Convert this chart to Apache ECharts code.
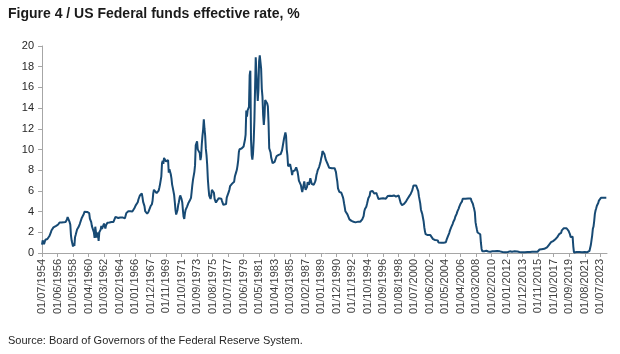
<!DOCTYPE html>
<html lang="en">
  <head>
    <meta charset="UTF-8" />
    <title>US Federal funds effective rate</title>
    <script src="https://cdn.jsdelivr.net/npm/echarts@6/dist/echarts.min.js"></script>
    <style>
      body {
        margin: 0;
        padding: 0;
        background: #fff;
      }

      #main {
        width: 620px;
        height: 354px;
      }
    </style>
  </head>

  <body>
    <div id="main"></div>
    <script>
      // monthly series, starting July 1954
      const startYear = 1954;
      const startMonth = 7;
      const rates = [
        0.8, 1.22, 1.07, 0.85, 0.83, 1.28, // 1954
        1.39, 1.29, 1.35, 1.43, 1.43, 1.64, 1.68, 1.96, 2.18, 2.24, 2.35, 2.48, // 1955
        2.45, 2.5, 2.5, 2.62, 2.75, 2.71, 2.75, 2.73, 2.95, 2.96, 2.88, 2.94, // 1956
        2.84, 3.0, 2.96, 3.0, 3.0, 3.0, 2.99, 3.24, 3.47, 3.5, 3.28, 2.98, // 1957
        2.72, 1.67, 1.2, 1.26, 0.63, 0.93, 0.68, 1.53, 1.76, 1.8, 2.27, 2.42, // 1958
        2.48, 2.43, 2.8, 2.96, 2.9, 3.39, 3.47, 3.5, 3.76, 3.98, 4.0, 3.99, // 1959
        3.99, 3.97, 3.84, 3.92, 3.85, 3.32, 3.23, 2.98, 2.6, 2.47, 2.44, 1.98, // 1960
        1.45, 2.54, 2.02, 1.49, 1.98, 1.73, 1.17, 2.0, 1.88, 2.26, 2.61, 2.33, // 1961
        2.15, 2.37, 2.85, 2.78, 2.36, 2.68, 2.71, 2.93, 2.9, 2.9, 2.94, 2.93, // 1962
        2.92, 3.0, 2.98, 2.9, 3.0, 2.99, 3.02, 3.49, 3.48, 3.5, 3.48, 3.38, // 1963
        3.48, 3.48, 3.43, 3.47, 3.5, 3.5, 3.42, 3.5, 3.45, 3.36, 3.52, 3.85, // 1964
        3.9, 3.98, 4.04, 4.09, 4.1, 4.04, 4.09, 4.12, 4.01, 4.08, 4.1, 4.32, // 1965
        4.42, 4.6, 4.65, 4.67, 4.9, 5.17, 5.3, 5.53, 5.4, 5.53, 5.76, 5.4, // 1966
        4.94, 5.0, 4.53, 4.05, 3.94, 3.98, 3.79, 3.9, 3.99, 3.88, 4.13, 4.51, // 1967
        4.6, 4.71, 5.05, 5.76, 6.11, 6.07, 6.02, 6.03, 5.78, 5.91, 5.82, 6.02, // 1968
        6.3, 6.61, 6.79, 7.41, 8.67, 8.9, 8.61, 9.19, 9.15, 9.0, 8.85, 8.97, // 1969
        8.98, 8.98, 7.76, 8.1, 7.95, 7.61, 7.21, 6.61, 6.29, 6.2, 5.6, 4.9, // 1970
        4.14, 3.72, 3.71, 4.16, 4.63, 4.91, 5.31, 5.56, 5.55, 5.2, 4.91, 4.14, // 1971
        3.5, 3.29, 3.83, 4.17, 4.27, 4.46, 4.55, 4.8, 4.87, 5.04, 5.06, 5.33, // 1972
        5.94, 6.58, 7.09, 7.12, 7.84, 8.49, 10.4, 10.5, 10.78, 10.01, 10.03, 9.95, // 1973
        9.65, 8.97, 9.35, 10.51, 11.31, 11.93, 12.92, 12.01, 11.34, 10.06, 9.45, 8.53, // 1974
        7.13, 6.24, 5.54, 5.49, 5.22, 5.55, 6.1, 6.14, 6.24, 5.82, 5.22, 5.2, // 1975
        4.87, 4.77, 4.84, 4.82, 5.29, 5.48, 5.31, 5.29, 5.25, 5.02, 4.95, 4.65, // 1976
        4.61, 4.68, 4.69, 4.73, 5.35, 5.39, 5.42, 5.9, 6.14, 6.47, 6.51, 6.56, // 1977
        6.7, 6.78, 6.79, 6.89, 7.36, 7.6, 7.81, 8.04, 8.45, 8.96, 9.76, 10.03, // 1978
        10.07, 10.06, 10.09, 10.01, 10.24, 10.29, 10.47, 10.94, 11.43, 13.77, 13.18, 13.78, // 1979
        13.82, 14.13, 17.19, 17.61, 10.98, 9.47, 9.03, 9.61, 10.87, 12.81, 15.85, 18.9, // 1980
        19.08, 15.93, 14.7, 15.72, 18.52, 19.1, 19.04, 17.82, 15.87, 15.08, 13.31, 12.37, // 1981
        13.22, 14.78, 14.68, 14.94, 14.45, 14.15, 12.59, 10.12, 10.31, 9.71, 9.2, 8.95, // 1982
        8.68, 8.51, 8.77, 8.8, 8.63, 8.98, 9.37, 9.56, 9.45, 9.48, 9.34, 9.47, // 1983
        9.56, 9.59, 9.91, 10.29, 10.32, 11.06, 11.23, 11.64, 11.3, 9.99, 9.43, 8.38, // 1984
        8.35, 8.5, 8.58, 8.27, 7.97, 7.53, 7.88, 7.9, 7.92, 7.99, 8.05, 8.27, // 1985
        8.14, 7.86, 7.48, 6.99, 6.85, 6.92, 6.56, 6.17, 5.89, 5.85, 6.04, 6.91, // 1986
        6.43, 6.1, 6.13, 6.37, 6.85, 6.73, 6.58, 6.73, 7.22, 7.29, 6.69, 6.77, // 1987
        6.83, 6.58, 6.58, 6.87, 7.09, 7.51, 7.75, 8.01, 8.19, 8.3, 8.35, 8.76, // 1988
        9.12, 9.36, 9.85, 9.84, 9.81, 9.53, 9.24, 8.99, 9.02, 8.84, 8.55, 8.45, // 1989
        8.23, 8.24, 8.28, 8.26, 8.18, 8.29, 8.15, 8.13, 8.2, 8.11, 7.81, 7.31, // 1990
        6.91, 6.25, 6.12, 5.91, 5.78, 5.9, 5.82, 5.66, 5.45, 5.21, 4.81, 4.43, // 1991
        4.03, 4.06, 3.98, 3.73, 3.82, 3.76, 3.25, 3.3, 3.22, 3.1, 3.09, 2.92, // 1992
        3.02, 3.03, 3.07, 2.96, 3.0, 3.04, 3.06, 3.03, 3.09, 2.99, 3.02, 2.96, // 1993
        3.05, 3.25, 3.34, 3.56, 4.01, 4.25, 4.26, 4.47, 4.73, 4.76, 5.29, 5.45, // 1994
        5.53, 5.92, 5.98, 6.05, 6.01, 6.0, 5.85, 5.74, 5.8, 5.76, 5.8, 5.6, // 1995
        5.56, 5.22, 5.31, 5.22, 5.24, 5.27, 5.4, 5.22, 5.3, 5.24, 5.31, 5.29, // 1996
        5.25, 5.19, 5.39, 5.51, 5.5, 5.56, 5.52, 5.54, 5.54, 5.5, 5.52, 5.5, // 1997
        5.56, 5.51, 5.49, 5.45, 5.49, 5.56, 5.54, 5.55, 5.51, 5.07, 4.83, 4.68, // 1998
        4.63, 4.76, 4.81, 4.74, 4.74, 4.76, 4.99, 5.07, 5.22, 5.2, 5.42, 5.3, // 1999
        5.45, 5.73, 5.85, 6.02, 6.27, 6.53, 6.54, 6.5, 6.52, 6.51, 6.51, 6.4, // 2000
        5.98, 5.49, 5.31, 4.8, 4.21, 3.97, 3.77, 3.65, 3.07, 2.49, 2.09, 1.82, // 2001
        1.73, 1.74, 1.73, 1.75, 1.75, 1.75, 1.73, 1.74, 1.75, 1.75, 1.34, 1.24, // 2002
        1.24, 1.26, 1.25, 1.26, 1.26, 1.22, 1.01, 1.03, 1.01, 1.01, 1.0, 0.98, // 2003
        1.0, 1.01, 1.0, 1.0, 1.0, 1.03, 1.26, 1.43, 1.61, 1.76, 1.93, 2.16, // 2004
        2.28, 2.5, 2.63, 2.79, 3.0, 3.04, 3.26, 3.5, 3.62, 3.78, 4.0, 4.16, // 2005
        4.29, 4.49, 4.59, 4.79, 4.94, 4.99, 5.24, 5.25, 5.25, 5.25, 5.25, 5.24, // 2006
        5.25, 5.26, 5.26, 5.25, 5.25, 5.25, 5.26, 5.02, 4.94, 4.76, 4.49, 4.24, // 2007
        3.94, 2.98, 2.61, 2.28, 1.98, 2.0, 2.01, 2.0, 1.81, 0.97, 0.39, 0.16, // 2008
        0.15, 0.22, 0.18, 0.15, 0.18, 0.21, 0.16, 0.16, 0.15, 0.12, 0.12, 0.12, // 2009
        0.11, 0.13, 0.16, 0.2, 0.2, 0.18, 0.18, 0.19, 0.19, 0.19, 0.19, 0.18, // 2010
        0.17, 0.16, 0.14, 0.1, 0.09, 0.09, 0.07, 0.1, 0.08, 0.07, 0.08, 0.07, // 2011
        0.08, 0.1, 0.13, 0.14, 0.16, 0.16, 0.16, 0.13, 0.14, 0.16, 0.16, 0.16, // 2012
        0.14, 0.15, 0.14, 0.15, 0.11, 0.09, 0.09, 0.08, 0.08, 0.09, 0.08, 0.09, // 2013
        0.07, 0.07, 0.08, 0.09, 0.09, 0.1, 0.09, 0.09, 0.09, 0.09, 0.09, 0.12, // 2014
        0.11, 0.11, 0.11, 0.12, 0.12, 0.13, 0.13, 0.14, 0.14, 0.12, 0.12, 0.24, // 2015
        0.34, 0.38, 0.36, 0.37, 0.37, 0.38, 0.39, 0.4, 0.4, 0.4, 0.41, 0.54, // 2016
        0.65, 0.66, 0.79, 0.9, 0.91, 1.04, 1.15, 1.16, 1.15, 1.15, 1.16, 1.3, // 2017
        1.41, 1.42, 1.51, 1.69, 1.7, 1.82, 1.91, 1.91, 1.95, 2.19, 2.2, 2.27, // 2018
        2.4, 2.4, 2.41, 2.42, 2.39, 2.38, 2.4, 2.13, 2.04, 1.83, 1.55, 1.55, // 2019
        1.55, 1.58, 0.65, 0.05, 0.05, 0.08, 0.09, 0.1, 0.09, 0.09, 0.09, 0.09, // 2020
        0.09, 0.08, 0.07, 0.07, 0.06, 0.08, 0.1, 0.09, 0.08, 0.08, 0.08, 0.08, // 2021
        0.08, 0.08, 0.2, 0.33, 0.77, 1.21, 1.68, 2.33, 2.56, 3.08, 3.78, 4.1, // 2022
        4.33, 4.57, 4.65, 4.83, 5.06, 5.08, 5.12, 5.33, 5.33, 5.33, 5.33, 5.33, // 2023
        5.33, 5.33, 5.33, 5.33, 5.33, // 2024
      ];

      // dd/mm/yyyy labels, first day of each month
      const dates = rates.map((_, i) => {
        const m = ((startMonth - 1 + i) % 12) + 1;
        const y = startYear + Math.floor((startMonth - 1 + i) / 12);
        return `01/${String(m).padStart(2, "0")}/${y}`;
      });

      const chartDom = document.getElementById("main");
      const myChart = echarts.init(chartDom);

      const option = {
        animation: false,
        textStyle: {
          fontFamily: "Liberation Sans, Arial, sans-serif",
        },
        title: [
          {
            text: "Figure 4 / US Federal funds effective rate, %",
            left: 8,
            top: 7,
            padding: 0,
            textStyle: {
              fontSize: 14,
              fontWeight: "bold",
              color: "#1a1a1a",
              fontFamily: "Liberation Sans, Arial, sans-serif",
            },
          },
          {
            text: "Source: Board of Governors of the Federal Reserve System.",
            left: 8,
            top: 335,
            padding: 0,
            textStyle: {
              fontSize: 11,
              fontWeight: "normal",
              color: "#262626",
              fontFamily: "Liberation Sans, Arial, sans-serif",
            },
          },
        ],
        grid: {
          left: 42,
          right: 13,
          top: 46,
          bottom: 101,
        },
        xAxis: {
          type: "category",
          boundaryGap: false,
          data: dates,
          axisLine: {
            lineStyle: { color: "#a6a6a6" },
          },
          axisTick: {
            interval: 22,
            length: 4,
            lineStyle: { color: "#a6a6a6" },
          },
          axisLabel: {
            interval: 22,
            rotate: 90,
            fontSize: 11,
            color: "#404040",
            margin: 6,
          },
        },
        yAxis: {
          type: "value",
          min: 0,
          max: 20,
          interval: 2,
          splitLine: { show: false },
          axisLine: {
            show: true,
            lineStyle: { color: "#a6a6a6" },
          },
          axisTick: {
            show: true,
            length: 4,
            lineStyle: { color: "#a6a6a6" },
          },
          axisLabel: {
            fontSize: 11,
            color: "#262626",
            margin: 8,
          },
        },
        series: [
          {
            name: "Federal funds effective rate",
            type: "line",
            data: rates,
            symbol: "none",
            lineStyle: {
              color: "#174a74",
              width: 2,
            },
          },
        ],
      };

      myChart.setOption(option);
    </script>
  </body>
</html>
